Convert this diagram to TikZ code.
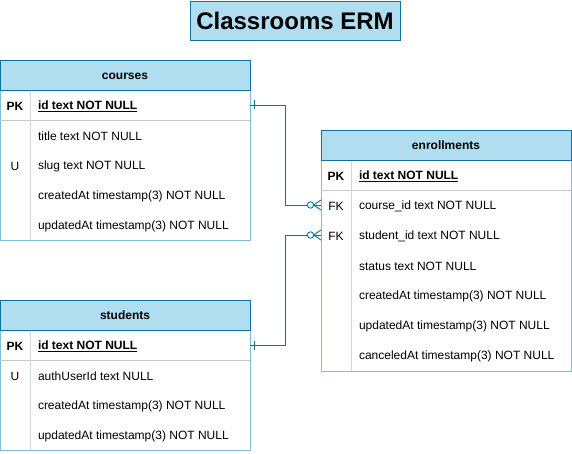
\documentclass[tikz,border=0pt]{standalone}
\usepackage{fontspec}
\setmainfont{Liberation Sans}
\usetikzlibrary{calc}
\definecolor{headfill}{HTML}{B1DDF0}
\definecolor{darkb}{HTML}{10739E}
\definecolor{bodyb}{HTML}{7FBFD6}
\definecolor{sepgray}{HTML}{C8C8C8}
\definecolor{colsep}{HTML}{C9DDE6}
\begin{document}
\begin{tikzpicture}[x=1pt,y=-1pt,
  every node/.style={inner sep=0pt,outer sep=0pt},
  tfont/.style={font=\fontsize{12}{14}\selectfont,yshift=-1.5pt},
  title/.style={draw=darkb,fill=headfill,line width=0.8pt,minimum width=210pt,minimum height=39pt,font=\fontsize{24}{28}\selectfont\bfseries},
  header/.style={draw=darkb,fill=headfill,line width=0.8pt,minimum width=250pt,minimum height=30pt,text height=9.5pt,text depth=0pt,font=\fontsize{12}{14}\selectfont\bfseries},
  rowbox/.style={minimum width=250pt,minimum height=30pt},
  keytext/.style={tfont,anchor=center},
  pktext/.style={tfont,font=\fontsize{12}{14}\selectfont\bfseries,anchor=center},
  fieldtext/.style={tfont,anchor=west},
  pkfield/.style={anchor=west,yshift=-1.5pt,font=\fontsize{12}{14}\selectfont\bfseries},
  body/.style={draw=bodyb,line width=0.8pt,fill=white},
  conn/.style={draw=darkb,line width=0.9pt},
]
\useasboundingbox (0,0) rectangle (572,454);

% Title
\node[title] (ttl) at (295,20.5) {Classrooms ERM};

% ---------- courses ----------
\draw[body] (0,90) rectangle (250,240);
\draw[sepgray,line width=0.8pt] (0,120) -- (250,120);
\draw[colsep,line width=0.8pt] (30,90) -- (30,240);
\node[header] (ch) at (125,75) {courses};
\node[rowbox] (cpk) at (125,105) {};
\node[pktext] at (15,105) {PK};
\node[pkfield] at (38,105) {\underline{id text NOT NULL}};
\node[rowbox] (c1) at (125,135) {};
\node[fieldtext] at (38,135) {title text NOT NULL};
\node[rowbox] (c2) at (125,165) {};
\node[keytext] at (15,165) {U};
\node[fieldtext] at (38,165) {slug text NOT NULL};
\node[rowbox] (c3) at (125,195) {};
\node[fieldtext] at (38,195) {createdAt timestamp(3) NOT NULL};
\node[rowbox] (c4) at (125,225) {};
\node[fieldtext] at (38,225) {updatedAt timestamp(3) NOT NULL};

% ---------- students ----------
\draw[body] (0,330) rectangle (250,450);
\draw[sepgray,line width=0.8pt] (0,360) -- (250,360);
\draw[colsep,line width=0.8pt] (30,330) -- (30,450);
\node[header] (sh) at (125,315) {students};
\node[rowbox] (spk) at (125,345) {};
\node[pktext] at (15,345) {PK};
\node[pkfield] at (38,345) {\underline{id text NOT NULL}};
\node[rowbox] (s1) at (125,375) {};
\node[keytext] at (15,375) {U};
\node[fieldtext] at (38,375) {authUserId text NULL};
\node[rowbox] (s2) at (125,405) {};
\node[fieldtext] at (38,405) {createdAt timestamp(3) NOT NULL};
\node[rowbox] (s3) at (125,435) {};
\node[fieldtext] at (38,435) {updatedAt timestamp(3) NOT NULL};

% ---------- enrollments ----------
\draw[body] (321,160) rectangle (571,371);
\draw[sepgray,line width=0.8pt] (321,190) -- (571,190);
\draw[colsep,line width=0.8pt] (351,160) -- (351,371);
\node[header] (eh) at (446,145) {enrollments};
\node[rowbox] (epk) at (446,175) {};
\node[pktext] at (336,175) {PK};
\node[pkfield] at (359,175) {\underline{id text NOT NULL}};
\node[rowbox] (e1) at (446,205) {};
\node[keytext] at (336,205) {FK};
\node[fieldtext] at (359,205) {course\_id text NOT NULL};
\node[rowbox] (e2) at (446,235) {};
\node[keytext] at (336,235) {FK};
\node[fieldtext] at (359,235) {student\_id text NOT NULL};
\node[rowbox] (e3) at (446,265) {};
\node[fieldtext] at (359,265) {status text NOT NULL};
\node[rowbox] (e4) at (446,295) {};
\node[fieldtext] at (359,295) {createdAt timestamp(3) NOT NULL};
\node[rowbox] (e5) at (446,325) {};
\node[fieldtext] at (359,325) {updatedAt timestamp(3) NOT NULL};
\node[rowbox] (e6) at (446,355) {};
\node[fieldtext] at (359,355) {canceledAt timestamp(3) NOT NULL};

% ---------- connectors ----------
\coordinate (m1) at (285,105);
\coordinate (m2) at (285,345);
\draw[conn] (cpk.east) -- (m1) |- ($(e1.west)+(-13,0)$);
\draw[conn] (spk.east) -- (m2) |- ($(e2.west)+(-13,0)$);
% one markers
\draw[conn] ($(cpk.east)+(4.5,-4.5)$) -- ($(cpk.east)+(4.5,4.5)$);
\draw[conn] ($(spk.east)+(4.5,-4.5)$) -- ($(spk.east)+(4.5,4.5)$);
% zero-or-many markers
\foreach \r in {e1,e2}{
  \draw[conn,fill=white] ($(\r.west)+(-10.5,0)$) circle (3.2);
  \draw[conn] ($(\r.west)+(-7.3,0)$) -- (\r.west);
  \draw[conn] ($(\r.west)+(-7.3,0)$) -- ($(\r.west)+(0,-5)$);
  \draw[conn] ($(\r.west)+(-7.3,0)$) -- ($(\r.west)+(0,5)$);
}
\end{tikzpicture}
\end{document}
